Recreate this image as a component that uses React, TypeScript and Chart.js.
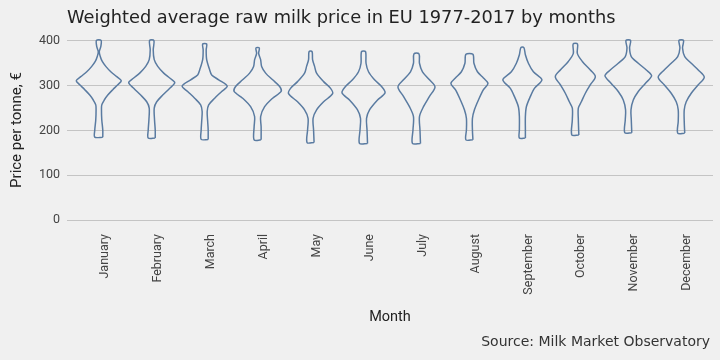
import { useEffect, useRef } from 'react';
import { Chart, registerables } from 'chart.js';

Chart.register(...registerables);

const chartTitle = 'Weighted average raw milk price in EU 1977-2017 by months';
const sourceText = 'Source: Milk Market Observatory';
const xAxisTitle = 'Month';
const yAxisTitle = 'Price per tonne, €';

const months = [
  'January', 'February', 'March', 'April', 'May', 'June',
  'July', 'August', 'September', 'October', 'November', 'December',
];
const yTickValues = [0, 100, 200, 300, 400];

// Each violin: [price €/t, relative density (half-width)] from bottom to top
const january = [[185, 4], [201, 4], [224, 3], [246, 2.7], [257, 3], [268, 5.5], [279, 9], [291, 14], [302, 19], [311, 22.5], [320, 18], [331, 12], [343, 7], [354, 3.5], [365, 1.5], [376, 0.5], [387, 2], [401, 2.3]];
const february = [[183, 3.5], [201, 3.5], [224, 2.8], [250, 2.5], [264, 5], [279, 11], [294, 18], [307, 23], [317, 18], [328, 12], [343, 6], [358, 2.5], [380, 1.5], [401, 2.2]];
const march = [[180, 3.5], [201, 3.5], [220, 3], [242, 2.5], [257, 4], [272, 10], [287, 17], [299, 22.5], [313, 14], [324, 7], [335, 5], [358, 2], [380, 1.5], [393, 2]];
const april = [[179, 3.5], [208, 3.5], [231, 3], [253, 7], [272, 15], [287, 23.5], [298, 22], [313, 15], [328, 8], [343, 4], [358, 3], [372, 1], [384, 1.7]];
const may = [[173, 3.5], [201, 3], [227, 2.5], [246, 6], [264, 13], [282, 22], [294, 20], [309, 13], [328, 6], [343, 4], [358, 2], [376, 1.5]];
const june = [[171, 4], [201, 3.5], [227, 3], [246, 6], [268, 14], [284, 21.5], [298, 18], [313, 11], [331, 5], [350, 2.5], [376, 2]];
const july = [[171, 4], [201, 3.5], [231, 3], [253, 7], [276, 13], [297, 18.5], [313, 13], [331, 6], [350, 3], [371, 2.5]];
const august = [[179, 3.5], [201, 3], [227, 3], [246, 5], [268, 9], [291, 14], [305, 18.5], [317, 14], [331, 8], [350, 4.5], [370, 3.5]];
const september = [[183, 3], [201, 3], [231, 3], [253, 4], [276, 8], [294, 12], [313, 19.5], [331, 11], [350, 6], [369, 3], [385, 1.5]];
const october = [[190, 3.5], [224, 3], [250, 3], [264, 6], [283, 10], [302, 15], [320, 20], [335, 15], [354, 7], [372, 2], [393, 2.2]];
const november = [[195, 3.5], [224, 3], [246, 2.7], [268, 5], [287, 10], [305, 17], [322, 23.3], [335, 18], [350, 10], [365, 3], [384, 1.3], [401, 2.3]];
const december = [[194, 3.5], [220, 3], [246, 3], [264, 5], [283, 10], [302, 17], [319, 23], [335, 17], [350, 10], [365, 3.5], [384, 1.3], [401, 2.3]];

const violins = [january, february, march, april, may, june, july, august, september, october, november, december];

const densityToHalfWidth = 0.45 / 23.8;
const violinColor = '#5a7ba1';
const bgColor = '#f0f0f0';

export default function App() {
  const ref = useRef<HTMLCanvasElement>(null);

  useEffect(() => {
    if (!ref.current) return;
    const datasets = violins.map((v, i) => {
      const right = v.map(([p, d]) => ({ x: i + d * densityToHalfWidth, y: p }));
      const left = v.slice().reverse().map(([p, d]) => ({ x: i - d * densityToHalfWidth, y: p }));
      return {
        label: months[i],
        data: [...right, ...left, right[0]],
        showLine: true,
        borderColor: violinColor,
        borderWidth: 1.5,
        pointRadius: 0,
        tension: 0.3,
        fill: false,
      };
    });

    const decor = {
      id: 'decor',
      beforeDraw(chart: any) {
        const ctx = chart.ctx;
        ctx.save();
        ctx.fillStyle = bgColor;
        ctx.fillRect(0, 0, chart.width, chart.height);
        ctx.restore();
      },
      afterDraw(chart: any) {
        const ctx = chart.ctx;
        ctx.save();
        ctx.fillStyle = '#222222';
        ctx.font = "17.8px 'DejaVu Sans'";
        ctx.textAlign = 'left';
        ctx.textBaseline = 'alphabetic';
        ctx.fillText(chartTitle, 67, 23);
        ctx.fillStyle = '#333333';
        ctx.font = "14px 'DejaVu Sans'";
        ctx.textAlign = 'right';
        ctx.textBaseline = 'middle';
        ctx.fillText(sourceText, 710, 342);
        ctx.restore();
      },
    };

    const chart = new Chart(ref.current, {
      type: 'scatter',
      data: { datasets: datasets as any },
      options: {
        animation: false,
        responsive: false,
        events: [],
        layout: { padding: { top: 31, right: 7, left: 0, bottom: 0 } },
        plugins: { legend: { display: false }, tooltip: { enabled: false }, title: { display: false } },
        scales: {
          x: {
            type: 'linear',
            min: -0.6,
            max: 11.6,
            afterBuildTicks: (s: any) => {
              s.ticks = months.map((_, i) => ({ value: i }));
            },
            afterFit: (s: any) => {
              s.height = 131;
            },
            grid: { display: false, drawTicks: false },
            border: { display: false },
            ticks: {
              autoSkip: false,
              minRotation: 90,
              maxRotation: 90,
              padding: 5,
              labelOffset: 6,
              color: '#444444',
              font: { family: 'Roboto', size: 12.5 },
              callback: (v: any) => months[v] ?? '',
            },
            title: {
              display: true,
              text: xAxisTitle,
              color: '#222222',
              font: { family: 'Roboto', size: 14.5 },
              padding: { top: 34, bottom: 34 },
            },
          },
          y: {
            min: -20,
            max: 422,
            afterBuildTicks: (s: any) => {
              s.ticks = yTickValues.map((v) => ({ value: v }));
            },
            afterFit: (s: any) => {
              s.width = 67;
            },
            grid: { color: '#c4c4c4', lineWidth: 1, drawTicks: false },
            border: { display: false },
            ticks: {
              padding: 7,
              color: '#444444',
              font: { family: 'Roboto', size: 12.5 },
            },
            title: {
              display: true,
              text: yAxisTitle,
              color: '#222222',
              font: { family: 'Roboto', size: 15 },
              padding: { top: 8, bottom: 8 },
            },
          },
        },
      },
      plugins: [decor],
    });
    return () => chart.destroy();
  }, []);

  return (
    <div style={{ position: 'absolute', left: 0, top: 0, width: 720, height: 360, background: bgColor }}>
      <canvas ref={ref} width={720} height={360} style={{ display: 'block' }} />
    </div>
  );
}
